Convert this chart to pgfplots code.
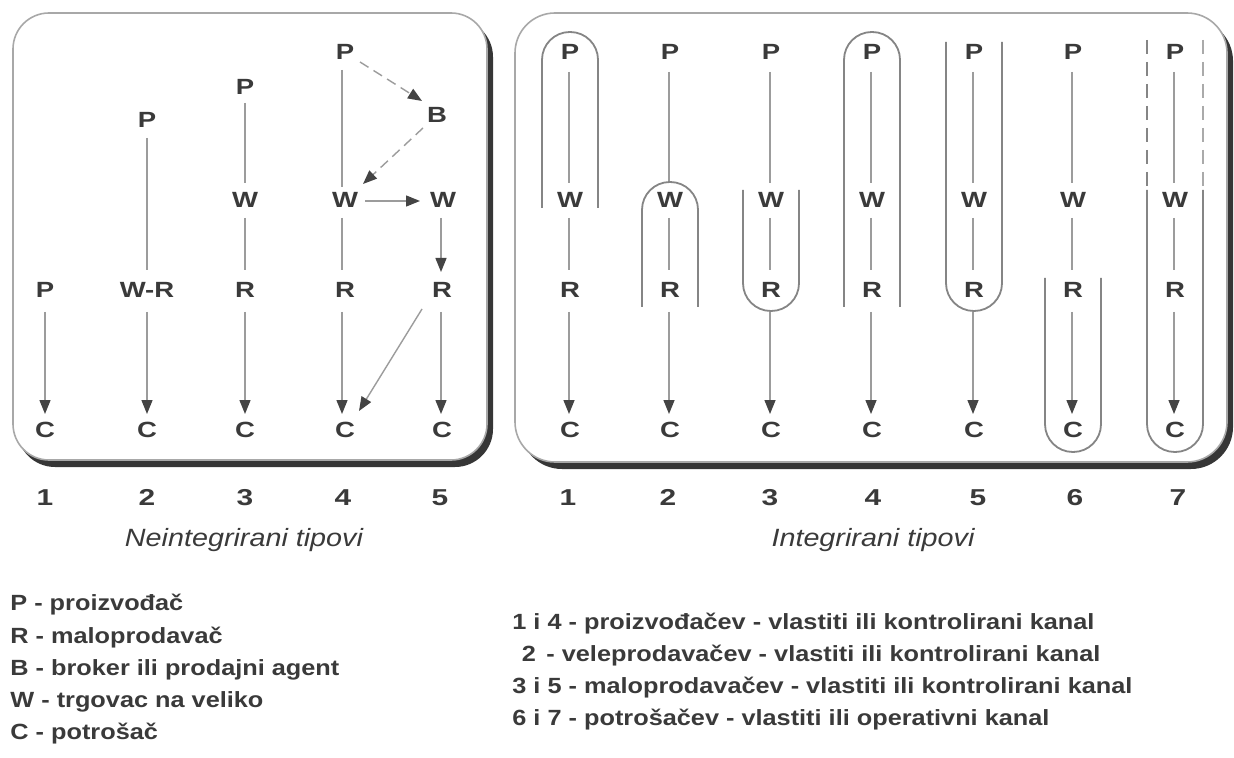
\documentclass[border=0pt]{standalone}
\usepackage{pgfplots}
\pgfplotsset{compat=1.18}
\usepackage{fontspec}
\setmainfont{Liberation Sans}
\usetikzlibrary{arrows.meta}

\definecolor{ln}{HTML}{9C9C9C}
\definecolor{tip}{HTML}{444444}
\definecolor{txt}{HTML}{3A3A3A}
\definecolor{capc}{HTML}{858585}
\definecolor{shd}{HTML}{363636}
\definecolor{frame}{HTML}{A8A8A8}

\newcommand{\wx}[1]{\scalebox{1.25}[1]{#1}}
\newcommand{\nx}[1]{\scalebox{1.3}[1]{#1}}
\newcommand{\lx}[1]{\scalebox{1.15}[1]{#1}}

\tikzset{
  ltr/.style={font=\bfseries\fontsize{11}{13}\selectfont, text=txt, inner sep=0pt, anchor=base, yshift=-3.9pt},
  num/.style={font=\bfseries\fontsize{11.5}{13}\selectfont, text=txt, inner sep=0pt, anchor=base, yshift=-4.1pt},
  leg/.style={font=\bfseries\fontsize{11}{13}\selectfont, text=txt, inner sep=0pt, anchor=base west, yshift=-3.9pt},
  ttl/.style={font=\itshape\fontsize{12.5}{14}\selectfont, text=txt, inner sep=0pt},
}

\begin{document}
\begin{tikzpicture}
\begin{axis}[
  width=617pt, height=379pt, scale only axis,
  xmin=0, xmax=1234, ymin=0, ymax=758, y dir=reverse,
  hide axis, clip=false,
  arr/.style={ln, line width=0.7pt, no markers, -{Triangle[length=7pt,width=5.5pt,color=tip]}},
  seg/.style={ln, line width=0.7pt, no markers},
  dsh/.style={ln, line width=0.7pt, no markers, dash pattern=on 5pt off 3pt, -{Triangle[length=7pt,width=5.5pt,color=tip]}},
  capsule/.style={capc, line width=0.9pt, no markers, rounded corners=13.9pt},
]
% page extent
\addplot[draw=none, no markers] coordinates {(0,0) (1234,758)};

% ---- boxes with shadow ----
\addplot[fill=shd, draw=none, no markers, rounded corners=19pt]
  coordinates {(250,19) (493,19) (493,467) (17,467) (17,19) (250,19)};
\addplot[fill=white, draw=frame, line width=0.8pt, no markers, rounded corners=18pt]
  coordinates {(250,13) (487,13) (487,460) (13,460) (13,13) (250,13)};
\addplot[fill=shd, draw=none, no markers, rounded corners=21pt]
  coordinates {(870,19) (1233,19) (1233,469) (520,469) (520,19) (870,19)};
\addplot[fill=white, draw=frame, line width=0.8pt, no markers, rounded corners=20pt]
  coordinates {(870,13) (1227,13) (1227,462) (515,462) (515,13) (870,13)};

% ---- left box: non-integrated ----
% column 1
\node[ltr] at (axis cs:45,290) {\wx{P}};
\node[ltr] at (axis cs:45,430) {\wx{C}};
\addplot[arr] coordinates {(45,312) (45,414)};
% column 2
\node[ltr] at (axis cs:147,120) {\wx{P}};
\node[ltr] at (axis cs:147,290) {\wx{W-R}};
\node[ltr] at (axis cs:147,430) {\wx{C}};
\addplot[seg] coordinates {(147,138) (147,270)};
\addplot[arr] coordinates {(147,312) (147,414)};
% column 3
\node[ltr] at (axis cs:245,87) {\wx{P}};
\node[ltr] at (axis cs:245,200) {\wx{W}};
\node[ltr] at (axis cs:245,290) {\wx{R}};
\node[ltr] at (axis cs:245,430) {\wx{C}};
\addplot[seg] coordinates {(245,103) (245,183)};
\addplot[seg] coordinates {(245,218) (245,270)};
\addplot[arr] coordinates {(245,312) (245,414)};
% column 4
\node[ltr] at (axis cs:345,52) {\wx{P}};
\node[ltr] at (axis cs:345,200) {\wx{W}};
\node[ltr] at (axis cs:345,290) {\wx{R}};
\node[ltr] at (axis cs:345,430) {\wx{C}};
\node[ltr] at (axis cs:437,115) {\wx{B}};
\addplot[seg] coordinates {(342,70) (342,187)};
\addplot[seg] coordinates {(342,218) (342,270)};
\addplot[arr] coordinates {(342,312) (342,414)};
\addplot[dsh] coordinates {(360,62) (422,101)};
\addplot[dsh] coordinates {(423,128) (363,184)};
\addplot[arr] coordinates {(365,201) (420,201)};
% column 5
\node[ltr] at (axis cs:443,200) {\wx{W}};
\node[ltr] at (axis cs:442,290) {\wx{R}};
\node[ltr] at (axis cs:442,430) {\wx{C}};
\addplot[arr] coordinates {(441,218) (441,272)};
\addplot[arr] coordinates {(441,312) (441,414)};
\addplot[arr] coordinates {(422,309) (359,411)};

% ---- right box: integrated ----
\foreach \x in {570,670,771,872,974,1073,1175} {
  \edef\tmp{\noexpand\node[ltr] at (axis cs:\x,52) {\noexpand\wx{P}};
    \noexpand\node[ltr] at (axis cs:\x,200) {\noexpand\wx{W}};
    \noexpand\node[ltr] at (axis cs:\x,290) {\noexpand\wx{R}};
    \noexpand\node[ltr] at (axis cs:\x,430) {\noexpand\wx{C}};}
  \tmp
}
\addplot[seg] coordinates {(569,72) (569,183)};
\addplot[seg] coordinates {(569,218) (569,270)};
\addplot[arr] coordinates {(569,312) (569,414)};
\addplot[seg] coordinates {(669,72) (669,183)};
\addplot[seg] coordinates {(669,218) (669,270)};
\addplot[arr] coordinates {(669,312) (669,414)};
\addplot[seg] coordinates {(770,72) (770,183)};
\addplot[seg] coordinates {(770,218) (770,270)};
\addplot[arr] coordinates {(770,312) (770,414)};
\addplot[seg] coordinates {(871,72) (871,183)};
\addplot[seg] coordinates {(871,218) (871,270)};
\addplot[arr] coordinates {(871,312) (871,414)};
\addplot[seg] coordinates {(973,72) (973,183)};
\addplot[seg] coordinates {(973,218) (973,270)};
\addplot[arr] coordinates {(973,312) (973,414)};
\addplot[seg] coordinates {(1072,72) (1072,183)};
\addplot[seg] coordinates {(1072,218) (1072,270)};
\addplot[arr] coordinates {(1072,312) (1072,414)};
\addplot[seg] coordinates {(1174,72) (1174,183)};
\addplot[seg] coordinates {(1174,218) (1174,270)};
\addplot[arr] coordinates {(1174,312) (1174,414)};

% capsules
\addplot[capsule] coordinates {(542,208) (542,32) (598,32) (598,208)};
\addplot[capsule] coordinates {(642,307) (642,182) (698,182) (698,307)};
\addplot[capsule] coordinates {(743,190) (743,311) (799,311) (799,190)};
\addplot[capsule] coordinates {(844,307) (844,32) (900,32) (900,307)};
\addplot[capsule] coordinates {(946,42) (946,311) (1002,311) (1002,42)};
\addplot[capsule] coordinates {(1045,278) (1045,452) (1101,452) (1101,278)};
\addplot[capsule] coordinates {(1147,190) (1147,452) (1203,452) (1203,190)};
\addplot[capc, line width=0.9pt, no markers, dash pattern=on 7pt off 4pt] coordinates {(1147,40) (1147,190)};
\addplot[capc!70, line width=0.7pt, no markers, dash pattern=on 7pt off 4pt] coordinates {(1203,40) (1203,190)};

% ---- numbers and titles ----
\node[num] at (axis cs:45,497) {\nx{1}};
\node[num] at (axis cs:147,497) {\nx{2}};
\node[num] at (axis cs:245,497) {\nx{3}};
\node[num] at (axis cs:343,497) {\nx{4}};
\node[num] at (axis cs:440,497) {\nx{5}};
\node[num] at (axis cs:568,497) {\nx{1}};
\node[num] at (axis cs:668,497) {\nx{2}};
\node[num] at (axis cs:770,497) {\nx{3}};
\node[num] at (axis cs:873,497) {\nx{4}};
\node[num] at (axis cs:978,497) {\nx{5}};
\node[num] at (axis cs:1075,497) {\nx{6}};
\node[num] at (axis cs:1178,497) {\nx{7}};
\node[ttl] at (axis cs:244,540) {\scalebox{1.15}[1]{Neintegrirani tipovi}};
\node[ttl] at (axis cs:873,540) {\scalebox{1.15}[1]{Integrirani tipovi}};

% ---- legends ----
\node[leg] at (axis cs:10,603) {\lx{P - proizvođač}};
\node[leg] at (axis cs:10,636) {\lx{R - maloprodavač}};
\node[leg] at (axis cs:10,668) {\lx{B - broker ili prodajni agent}};
\node[leg] at (axis cs:10,700) {\lx{W - trgovac na veliko}};
\node[leg] at (axis cs:10,732) {\lx{C - potrošač}};

\node[leg] at (axis cs:512,622) {\lx{1 i 4 - proizvođačev - vlastiti ili kontrolirani kanal}};
\node[leg, anchor=base] at (axis cs:529,654) {\lx{2}};
\node[leg] at (axis cs:546,654) {\lx{- veleprodavačev - vlastiti ili kontrolirani kanal}};
\node[leg] at (axis cs:512,686) {\lx{3 i 5 - maloprodavačev - vlastiti ili kontrolirani kanal}};
\node[leg] at (axis cs:512,718) {\lx{6 i 7 - potrošačev - vlastiti ili operativni kanal}};
\end{axis}
\end{tikzpicture}
\end{document}
